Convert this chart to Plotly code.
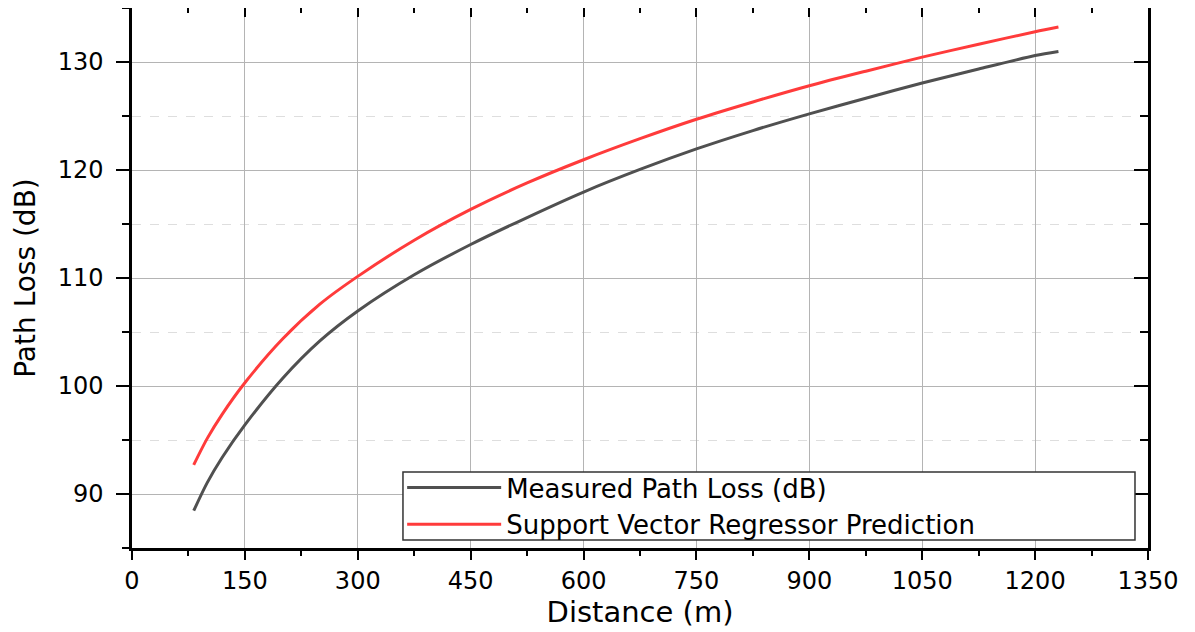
import plotly.graph_objects as go

distance = [82, 100, 120, 150, 200, 250, 300, 375, 450, 525, 600, 675, 750, 825, 900, 975, 1050, 1125, 1200, 1231]
measured = [88.45, 91.05, 93.4, 96.4, 100.7, 104.2, 106.95, 110.3, 113.1, 115.6, 117.96, 120.05, 121.95, 123.65, 125.2, 126.65, 128.05, 129.35, 130.6, 130.98]
svr_pred = [92.7, 95.15, 97.4, 100.3, 104.35, 107.6, 110.15, 113.5, 116.35, 118.8, 120.95, 122.9, 124.7, 126.3, 127.8, 129.15, 130.45, 131.65, 132.8, 133.24]

x_ticks = [0, 150, 300, 450, 600, 750, 900, 1050, 1200, 1350]
y_ticks = [90, 100, 110, 120, 130]

FONT = "DejaVu Sans"
GRAY = "#505050"
RED = "#ff3b3b"

fig = go.Figure()
fig.add_trace(go.Scatter(x=distance, y=measured, mode="lines", name="Measured Path Loss (dB)",
                         line=dict(color=GRAY, width=3, shape="spline", smoothing=0.8)))
fig.add_trace(go.Scatter(x=distance, y=svr_pred, mode="lines", name="Support Vector Regressor Prediction",
                         line=dict(color=RED, width=3, shape="spline", smoothing=0.8)))
# helper trace for the top/right inner-tick axes
fig.add_trace(go.Scatter(x=[], y=[], xaxis="x2", yaxis="y2", showlegend=False, hoverinfo="skip"))

xr = [0, 1350]
yr = [85, 135]

fig.update_layout(
    width=1187, height=624,
    margin=dict(l=124, r=47, t=0, b=84, autoexpand=False),
    paper_bgcolor="white", plot_bgcolor="white",
    font=dict(family=FONT, color="black"),
    showlegend=True,
    legend=dict(x=0.2659, y=0.0, xanchor="left", yanchor="bottom",
                bgcolor="rgba(0,0,0,0)", borderwidth=0,
                font=dict(family=FONT, size=26, color="black"),
                itemwidth=94, tracegroupgap=0),
    xaxis=dict(range=xr, tickmode="array", tickvals=x_ticks, ticktext=[str(v) for v in x_ticks],
               showline=True, linecolor="black", linewidth=2.5, mirror=True,
               ticks="outside", ticklen=9, tickwidth=2, tickcolor="black",
               showgrid=True, gridcolor="#b4b4b4", gridwidth=1, zeroline=False,
               tickfont=dict(family=FONT, size=24), ticklabelstandoff=0,
               minor=dict(dtick=75, tick0=0, ticks="outside", ticklen=5, tickwidth=2, tickcolor="black", showgrid=False),
               title=dict(text="Distance (m)", font=dict(family=FONT, size=29), standoff=5)),
    yaxis=dict(range=yr, tickmode="array", tickvals=y_ticks, ticktext=[str(v) for v in y_ticks],
               showline=True, linecolor="black", linewidth=2.5, mirror=True,
               ticks="outside", ticklen=13, tickwidth=2, tickcolor="black",
               showgrid=True, gridcolor="#b4b4b4", gridwidth=1, zeroline=False,
               tickfont=dict(family=FONT, size=24), ticklabelstandoff=8,
               minor=dict(dtick=5, tick0=85, ticks="outside", ticklen=7, tickwidth=2, tickcolor="black",
                          showgrid=True, gridcolor="#dedede", griddash="dash", gridwidth=1),
               title=dict(text="Path Loss (dB)", font=dict(family=FONT, size=28), standoff=14)),
    xaxis2=dict(range=xr, overlaying="x", side="top", anchor="y2", tickmode="array", tickvals=x_ticks,
                showticklabels=False, ticks="inside", ticklen=9, tickwidth=2, tickcolor="black",
                showgrid=False, zeroline=False, showline=False,
                minor=dict(dtick=75, tick0=0, ticks="inside", ticklen=5, tickwidth=2, tickcolor="black", showgrid=False)),
    yaxis2=dict(range=yr, overlaying="y", side="right", anchor="x2", tickmode="array", tickvals=y_ticks,
                showticklabels=False, ticks="inside", ticklen=14, tickwidth=2, tickcolor="black",
                showgrid=False, zeroline=False, showline=False,
                minor=dict(dtick=5, tick0=85, ticks="inside", ticklen=8, tickwidth=2, tickcolor="black", showgrid=False)),
)

# legend frame
fig.add_shape(type="rect", xref="paper", yref="paper", x0=0.2667, x1=0.9872, y0=0.0148, y1=0.1407,
              line=dict(color="#333333", width=1.5), fillcolor="white", layer="above")

fig.write_html("out.html")
